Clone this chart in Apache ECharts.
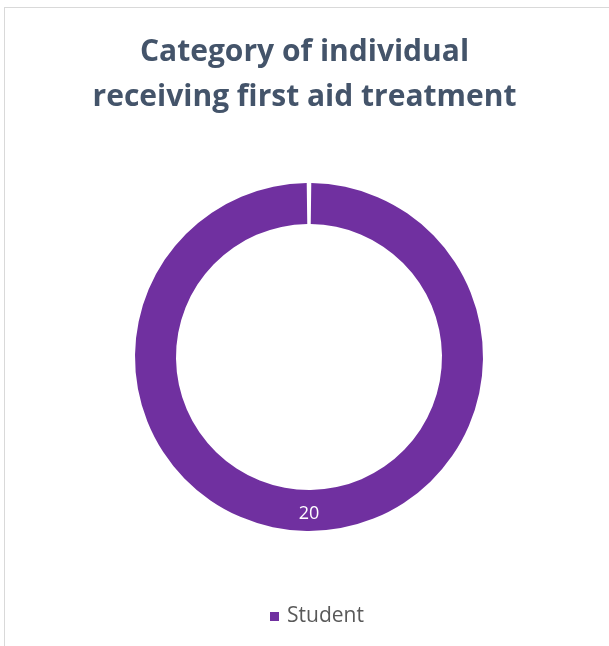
<!DOCTYPE html>
<html>
<head>
<meta charset="utf-8">
<script src="https://cdn.jsdelivr.net/npm/echarts@6/dist/echarts.min.js"></script>
<style>
  html, body { margin: 0; padding: 0; background: #fff; }
  #frame { position: absolute; left: 4px; top: 7px; width: 610px; height: 650px;
           border-left: 1px solid #d9d9d9; border-top: 1px solid #d9d9d9; }
  #chart { position: absolute; left: 0; top: 0; width: 609px; height: 646px; }
</style>
</head>
<body>
<div id="frame"></div>
<div id="chart"></div>
<script>
// values
var categories = ["Student"]
var values = [20]
var colors = ["#7030A0"]

var chart = echarts.init(document.getElementById('chart'), null, {renderer: 'canvas'})

var data = []
for (var i = 0; i < categories.length; i++) {
    data.push({name: categories[i], value: values[i], itemStyle: {color: colors[i]}})
}

var option = {
    title: {
        text: 'Category of individual\nreceiving first aid treatment',
        left: 'center',
        top: 25,
        textStyle: {
            fontFamily: 'Open Sans',
            fontWeight: 'bold',
            fontSize: 30,
            lineHeight: 45,
            color: '#44546A'
        }
    },
    legend: {
        bottom: 14,
        left: 265,
        icon: 'rect',
        itemWidth: 9,
        itemHeight: 9,
        itemGap: 8,
        textStyle: {
            fontFamily: 'Open Sans',
            fontSize: 21,
            color: '#595959',
            padding: [0, 0, 0, 3]
        },
        data: categories
    },
    series: [{
        type: 'pie',
        center: [309, 357],
        radius: [133, 174],
        startAngle: 90,
        clockwise: true,
        padAngle: 1.5,
        silent: true,
        label: {
            show: true,
            position: 'inside',
            formatter: '{c}',
            color: '#fff',
            fontFamily: 'Open Sans',
            fontSize: 18
        },
        labelLine: {show: false},
        data: data
    }]
}

chart.setOption(option)
</script>
</body>
</html>
